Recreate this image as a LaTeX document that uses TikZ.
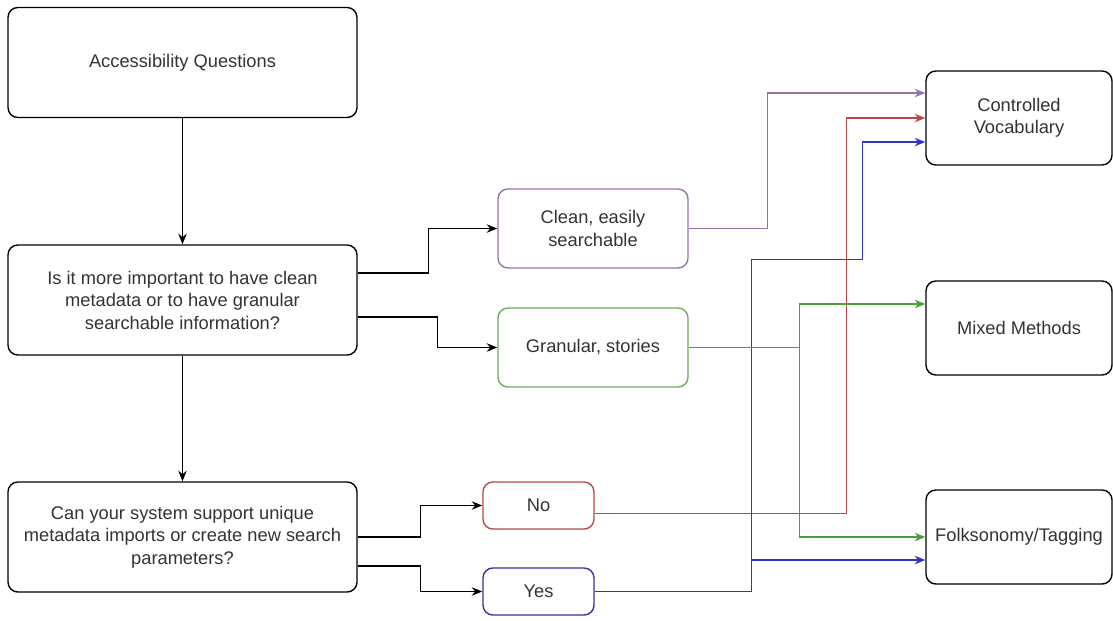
\documentclass[tikz,border=0pt]{standalone}
\usepackage{fontspec}
\setmainfont{Liberation Sans}
\usetikzlibrary{arrows.meta,calc}

\definecolor{txtgray}{HTML}{333333}
\definecolor{cpurple}{HTML}{9673A6}
\definecolor{cred}{HTML}{B84848}
\definecolor{cblue}{HTML}{3333CC}
\definecolor{cgreen}{HTML}{4A9E3F}
\definecolor{bgreen}{HTML}{6DAA5A}
\definecolor{bblue}{HTML}{33339F}

\def\pxu{0.025cm}

\tikzset{
  box/.style={draw=black, line width=1pt, rounded corners=7pt, align=center,
    text=txtgray, font=\fontsize{13}{16}\selectfont, inner sep=2pt},
  bigbox/.style={box, minimum width=349*\pxu, minimum height=110*\pxu},
  endbox/.style={box, minimum width=186*\pxu, minimum height=94*\pxu},
  midbox/.style={box, minimum width=190*\pxu, minimum height=79*\pxu},
  ansbox/.style={box, minimum width=111*\pxu, minimum height=47*\pxu},
  arr/.style={-{Stealth[length=7.5pt,width=6pt]}, line width=1.1pt},
}

\begin{document}
\begin{tikzpicture}[x=0.025cm,y=-0.025cm]

% ---------- Rahmen ----------
\useasboundingbox (0,0) rectangle (1113,620);

% ---------- linke Spalte ----------
\node[bigbox] (access) at (182.5,62.5) {Accessibility Questions};
\node[bigbox] (qclean) at (182.5,300) {Is it more important to have clean\\metadata or to have granular\\searchable information?};
\node[bigbox] (qsys)   at (182.5,537) {Can your system support unique\\metadata imports or create new search\\parameters?};

% ---------- mittlere Spalte ----------
\node[midbox, draw=cpurple] (clean)    at (593,228.5) {Clean, easily\\searchable};
\node[midbox, draw=bgreen]  (granular) at (593,347.5) {Granular, stories};
\node[ansbox, draw=cred]    (no)       at (538.5,505.5) {No};
\node[ansbox, draw=bblue]   (yes)      at (538.5,591.5) {Yes};

% ---------- rechte Spalte ----------
\node[endbox] (vocab) at (1019,118) {Controlled\\Vocabulary};
\node[endbox] (mixed) at (1019,328) {Mixed Methods};
\node[endbox] (folk)  at (1019,537) {Folksonomy/Tagging};

% ---------- schwarze Pfeile ----------
\draw[arr] (access) -- (qclean);
\draw[arr] (qclean) -- (qsys);
\draw[arr] ([yshift=27*\pxu]qclean.east) -- ++(71,0) |- (clean.west);
\draw[arr] ([yshift=-17*\pxu]qclean.east) -- ++(80,0) |- (granular.west);
\draw[arr] (qsys.east) -- ++(63,0) |- (no.west);
\draw[arr] ([yshift=-29*\pxu]qsys.east) -- ++(63,0) |- (yes.west);

% ---------- farbige Pfeile ----------
\draw[arr, cpurple] (clean.east) -- ++(79,0) |- ([yshift=25*\pxu]vocab.west);
\draw[arr, cred] ([yshift=-8*\pxu]no.east) -- ++(252,0) |- (vocab.west);
\draw[arr, cblue] (yes.east) -- ++(157,0) coordinate (bj) -- ++(0,-332) -- ++(111,0)
  |- ([yshift=-24*\pxu]vocab.west);
\draw[arr, cblue] (bj) |- ([yshift=-23*\pxu]folk.west);
\draw[arr, cgreen] (granular.east) -- ++(111,0) coordinate (gj)
  |- ([yshift=24*\pxu]mixed.west);
\draw[arr, cgreen] (gj) |- (folk.west);

\end{tikzpicture}
\end{document}
